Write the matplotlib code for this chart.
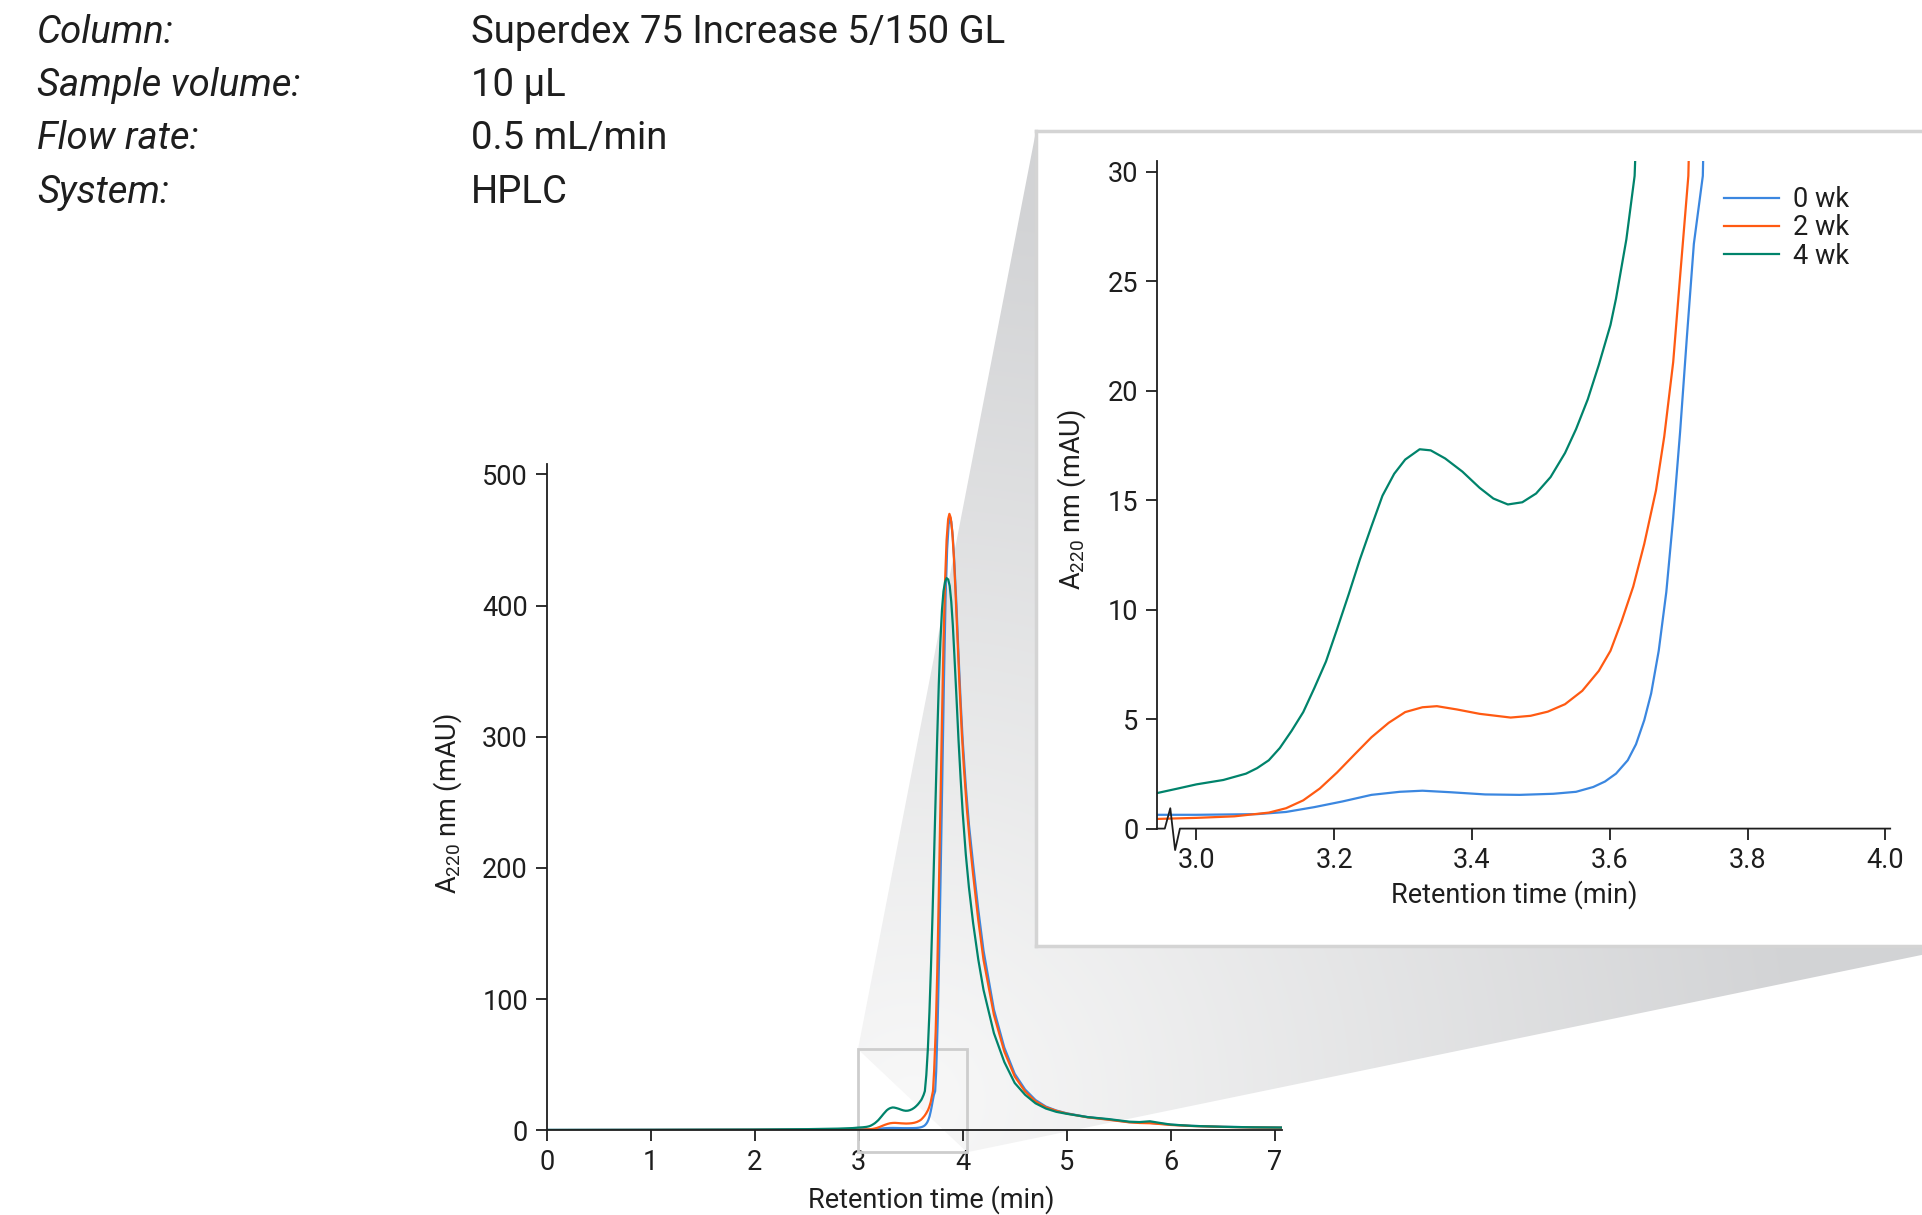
import matplotlib.pyplot as plt
import numpy as np
from matplotlib.patches import Polygon, Rectangle

plt.rcParams['font.family'] = ['Roboto', 'DejaVu Sans']
plt.rcParams['mathtext.fontset'] = 'custom'
plt.rcParams['mathtext.rm'] = 'Roboto'
plt.rcParams['mathtext.it'] = 'Roboto:italic'

# method details
info_keys = ['Column:', 'Sample volume:', 'Flow rate:', 'System:']
info_vals = ['Superdex 75 Increase 5/150 GL', '10 µL', '0.5 mL/min', 'HPLC']

labels = ['0 wk', '2 wk', '4 wk']
colors = ['#3b87e0', '#ff5a12', '#00836b']

# retention time (min) / absorbance (mAU)
t_0wk = [0.0, 1.0, 2.0, 2.5, 2.8, 2.941, 3.0, 3.088, 3.130, 3.171,
         3.212, 3.254, 3.295, 3.328, 3.369, 3.419, 3.469, 3.518, 3.551, 3.576,
         3.593, 3.609, 3.626, 3.638, 3.650, 3.660, 3.671, 3.682, 3.692, 3.702,
         3.712, 3.722, 3.735, 3.745, 3.76, 3.775, 3.79, 3.805, 3.82, 3.835,
         3.85, 3.865, 3.878, 3.89, 3.905, 3.92, 3.94, 3.96, 3.98, 4.00,
         4.03, 4.06, 4.10, 4.15, 4.20, 4.30, 4.40, 4.50, 4.60, 4.70,
         4.80, 4.90, 5.00, 5.20, 5.40, 5.60, 5.70, 5.80, 5.90, 6.00,
         6.20, 6.50, 6.80, 7.07]
a_0wk = [0.2, 0.3, 0.4, 0.5, 0.6, 0.63, 0.63, 0.66, 0.76, 0.98,
         1.24, 1.54, 1.68, 1.73, 1.66, 1.56, 1.54, 1.59, 1.68, 1.9,
         2.15, 2.51, 3.12, 3.85, 4.95, 6.17, 8.12, 10.8, 14.2, 18.1,
         22.5, 26.7, 29.8, 45, 85, 140, 205, 275, 345, 405,
         443, 462, 467, 464, 452, 432, 400, 362, 327, 297,
         262, 233, 203, 168, 137, 92, 63, 43, 31, 23,
         18, 15, 12.9, 10, 8.2, 6.2, 5.8, 5.6, 5.0, 4.2,
         3.3, 2.6, 2.2, 2.0]

t_2wk = [0.0, 1.0, 2.0, 2.5, 2.8, 2.941, 3.0, 3.055, 3.105, 3.130,
         3.155, 3.179, 3.204, 3.229, 3.254, 3.279, 3.303, 3.328, 3.349, 3.378,
         3.411, 3.456, 3.485, 3.510, 3.535, 3.560, 3.584, 3.601, 3.617, 3.634,
         3.650, 3.667, 3.679, 3.692, 3.702, 3.714, 3.725, 3.74, 3.755, 3.77,
         3.785, 3.80, 3.815, 3.83, 3.845, 3.86, 3.872, 3.885, 3.90, 3.915,
         3.93, 3.95, 3.97, 3.99, 4.01, 4.04, 4.07, 4.10, 4.15, 4.20,
         4.30, 4.40, 4.50, 4.60, 4.70, 4.80, 4.90, 5.00, 5.20, 5.40,
         5.60, 5.70, 5.80, 5.90, 6.00, 6.20, 6.50, 6.80, 7.07]
a_2wk = [0.1, 0.2, 0.3, 0.35, 0.4, 0.44, 0.49, 0.56, 0.73, 0.93,
         1.29, 1.83, 2.56, 3.37, 4.17, 4.83, 5.32, 5.54, 5.59, 5.44,
         5.24, 5.07, 5.15, 5.34, 5.68, 6.29, 7.2, 8.12, 9.46, 11.05,
         13.0, 15.44, 17.9, 21.3, 25.2, 29.8, 45, 75, 120, 180,
         245, 310, 370, 418, 450, 466, 470, 467, 456, 437,
         412, 375, 338, 305, 278, 245, 218, 195, 160, 130,
         88, 60, 41, 29.5, 22, 17.5, 14.8, 12.7, 9.8, 8,
         6, 5.5, 5.3, 4.7, 4.0, 3.2, 2.5, 2.1, 1.9]

t_4wk = [0.0, 1.0, 2.0, 2.5, 2.8, 2.941, 2.973, 3.0, 3.039, 3.072,
         3.088, 3.105, 3.121, 3.138, 3.155, 3.171, 3.188, 3.204, 3.221, 3.237,
         3.254, 3.270, 3.287, 3.303, 3.324, 3.340, 3.361, 3.386, 3.411, 3.431,
         3.452, 3.473, 3.493, 3.514, 3.535, 3.551, 3.568, 3.584, 3.601, 3.609,
         3.624, 3.636, 3.65, 3.665, 3.68, 3.695, 3.71, 3.725, 3.74, 3.755,
         3.77, 3.785, 3.80, 3.815, 3.83, 3.845, 3.86, 3.875, 3.89, 3.905,
         3.92, 3.94, 3.96, 3.98, 4.00, 4.03, 4.06, 4.10, 4.15, 4.20,
         4.30, 4.40, 4.50, 4.60, 4.70, 4.80, 4.90, 5.00, 5.20, 5.40,
         5.60, 5.70, 5.80, 5.90, 6.00, 6.20, 6.50, 6.80, 7.07]
a_4wk = [0.2, 0.3, 0.5, 0.8, 1.2, 1.61, 1.83, 2.02, 2.22, 2.51,
         2.76, 3.12, 3.68, 4.46, 5.32, 6.41, 7.63, 9.1, 10.7, 12.27,
         13.8, 15.2, 16.2, 16.85, 17.32, 17.27, 16.9, 16.3, 15.56, 15.07,
         14.8, 14.9, 15.3, 16.05, 17.15, 18.24, 19.6, 21.17, 23.0, 24.2,
         26.9, 29.8, 42, 62, 90, 125, 165, 210, 255, 300,
         340, 372, 396, 411, 418, 421, 420, 415, 403, 385,
         362, 330, 297, 268, 242, 210, 185, 158, 130, 107,
         74, 52, 36, 27, 20.5, 16.5, 14, 12.5, 10, 8.5,
         6.5, 6.2, 6.8, 5.5, 4.3, 3.3, 2.6, 2.2, 2.0]

series = [(t_0wk, a_0wk), (t_2wk, a_2wk), (t_4wk, a_4wk)]

W, H = 1922, 1215
fig = plt.figure(figsize=(W / 100, H / 100), dpi=100)
ink = '#1e1e1e'


def px_axes(left, top, right, bottom, **kw):
    return fig.add_axes([left / W, 1 - bottom / H, (right - left) / W, (bottom - top) / H], **kw)


# background layer, pixel coords with origin at bottom-left (= display coords)
bg = fig.add_axes([0, 0, 1, 1], zorder=0)
bg.axis('off')

# main chromatogram
ax = px_axes(546.7, 464.0, 1282.0, 1130.2, zorder=1)
ax.set_facecolor('none')
for (t, a), c, lab in zip(series, colors, labels):
    ax.plot(t, a, color=c, lw=1.6, label=lab, zorder=3)
ax.set_xlim(0, 7.07)
ax.set_ylim(0, 508)
ax.set_xticks(range(8))
ax.set_yticks(range(0, 501, 100))
for s in ['top', 'right']:
    ax.spines[s].set_visible(False)
for s in ['left', 'bottom']:
    ax.spines[s].set_linewidth(1.3)
    ax.spines[s].set_color(ink)
    ax.spines[s].set_zorder(4)
ax.tick_params(length=8, width=1.3, color=ink, labelsize=19.5, labelcolor=ink, pad=5.5)
ax.set_xlabel('Retention time (min)', fontsize=19.5, color=ink)
ax.xaxis.set_label_coords(0.523, -0.083)
ax.set_ylabel(r'A$_{220}$ nm (mAU)', fontsize=19.5, color=ink)
ax.yaxis.set_label_coords(-0.112, 0.49)

# zoom window on the main plot
zx0, zx1, zy0, zy1 = 2.993, 4.042, -16.8, 61.7
ax.add_patch(Rectangle((zx0, zy0), zx1 - zx0, zy1 - zy0, fill=False, ec='#cdcdcd',
                       lw=2, clip_on=False, zorder=2))
fig.canvas.draw()
tl = ax.transData.transform((zx0, zy1))
br = ax.transData.transform((zx1, zy0))
ctr = ax.transData.transform(((zx0 + zx1) / 2, (zy0 + zy1) / 2))

# inset panel (white card with grey border)
p_left, p_top, p_right, p_bottom = 1036, 131, 1965, 946
panel = px_axes(p_left, p_top, p_right, p_bottom, zorder=2)
panel.set_xticks([])
panel.set_yticks([])
panel.set_facecolor('white')
for s in panel.spines.values():
    s.set_color('#d4d4d4')
    s.set_linewidth(2.5)

# cone joining zoom window and panel, with a grey gradient
cone = Polygon([tl, (p_left, H - p_top), (p_right, H - p_bottom), br], closed=True,
               transform=bg.transData, fc='none', ec='none')
bg.add_patch(cone)
yy, xx = np.mgrid[0:H, 0:W]
d = np.clip(np.hypot(xx - ctr[0], yy - ctr[1]) / 900.0, 0, 1)[..., None]
c0 = np.array([248, 248, 248]) / 255
c1 = np.array([210, 211, 213]) / 255
img = c0 + (c1 - c0) * d
im = bg.imshow(img, extent=(0, W, 0, H), origin='lower', aspect='auto', zorder=0)
im.set_clip_path(cone)
bg.set_xlim(0, W)
bg.set_ylim(0, H)

# inset
ins = px_axes(1157.2, 160.6, 1890.2, 828.6, zorder=3)
ins.set_facecolor('none')
for (t, a), c, lab in zip(series, colors, labels):
    ins.plot(t, a, color=c, lw=1.6, label=lab)
ins.set_xlim(2.943, 4.007)
ins.set_ylim(0, 30.5)
ins.set_xticks([3.0, 3.2, 3.4, 3.6, 3.8, 4.0])
ins.set_xticklabels(['3.0', '3.2', '3.4', '3.6', '3.8', '4.0'])
ins.set_yticks(range(0, 31, 5))
for s in ['top', 'right', 'bottom']:
    ins.spines[s].set_visible(False)
ins.spines['left'].set_linewidth(1.3)
ins.spines['left'].set_color(ink)
ins.tick_params(length=8, width=1.3, color=ink, labelsize=19.5, labelcolor=ink, pad=5.5)
# x axis line with break mark
xa, xb = ins.get_xlim()
ins.plot([xa, 2.954, 2.962, 2.969, 2.976, xb], [0, 0, 0.93, -0.98, 0, 0],
         color=ink, lw=1.3, clip_on=False, zorder=5)
ins.set_xlabel('Retention time (min)', fontsize=19.5, color=ink)
ins.xaxis.set_label_coords(0.487, -0.077)
ins.set_ylabel(r'A$_{220}$ nm (mAU)', fontsize=19.5, color=ink)
ins.yaxis.set_label_coords(-0.094, 0.492)
ins.legend(loc='upper left', bbox_to_anchor=((1723.6 - 1157.2) / 733, (828.6 - 186) / 668),
           frameon=False, handlelength=2.05, handletextpad=0.5, labelspacing=0.05,
           borderpad=0, borderaxespad=0, fontsize=19.5, labelcolor=ink)

# method details text
for i, (k, v) in enumerate(zip(info_keys, info_vals)):
    yb = 1 - (43 + 53.2 * i) / H
    fig.text(36.8 / W, yb, k, style='italic', fontsize=27.5, va='baseline', color=ink)
    fig.text(470.7 / W, yb, v, fontsize=27.5, va='baseline', color=ink)

fig.savefig('out.png', dpi=100)
